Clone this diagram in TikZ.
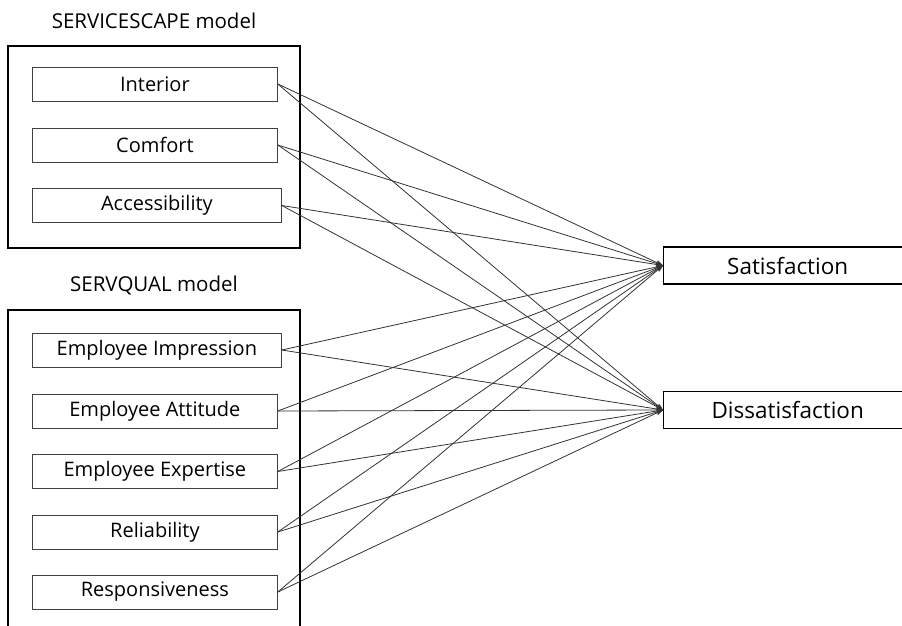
\documentclass[tikz,border=0pt]{standalone}
\usepackage{fontspec}
\setmainfont{Open Sans}
\usetikzlibrary{arrows.meta}
\begin{document}
\begin{tikzpicture}[x=1pt,y=-1pt,
  item/.style={draw=black!75, line width=0.8pt, minimum height=34pt, inner sep=0pt, font=\fontsize{20}{24}\selectfont, anchor=west},
  group/.style={draw=black, line width=1.6pt},
  target/.style={draw=black, line width=1.4pt, minimum height=37pt, minimum width=248pt, inner sep=0pt, anchor=west, font=\fontsize{22.5}{26}\selectfont},
  title/.style={font=\fontsize{20.5}{24}\selectfont},
  link/.style={draw=black!80, line width=0.8pt, -{Stealth[length=7pt,width=5pt]}}]
\useasboundingbox (0,0) rectangle (902,626);
\node[title] (t1) at (154,21) {SERVICESCAPE model};
\node[title] (t2) at (154,285) {SERVQUAL model};
\draw[group] (8,46) rectangle (300,248);
\draw[group] (8,310) rectangle (300,640);
\node[item, minimum width=245pt] (a1) at (32,84) {Interior};
\node[item, minimum width=245pt] (a2) at (32,145) {Comfort};
\node[item, minimum width=249pt] (a3) at (32,205.5) {Accessibility};
\node[item, minimum width=249pt] (b1) at (32,350) {Employee Impression};
\node[item, minimum width=245pt] (b2) at (32,411) {Employee Attitude};
\node[item, minimum width=245pt] (b3) at (32,471.5) {Employee Expertise};
\node[item, minimum width=245pt] (b4) at (32,532) {Reliability};
\node[item, minimum width=245pt] (b5) at (32,592) {Responsiveness};
\node[target] (s) at (663,265.5) {Satisfaction};
\node[target] (d) at (663,410) {Dissatisfaction};
\foreach \n in {a1,a2,a3,b1,b2,b3,b4,b5}{
  \draw[link] (\n.east) -- (s.west);
  \draw[link] (\n.east) -- (d.west);
}
\end{tikzpicture}
\end{document}
